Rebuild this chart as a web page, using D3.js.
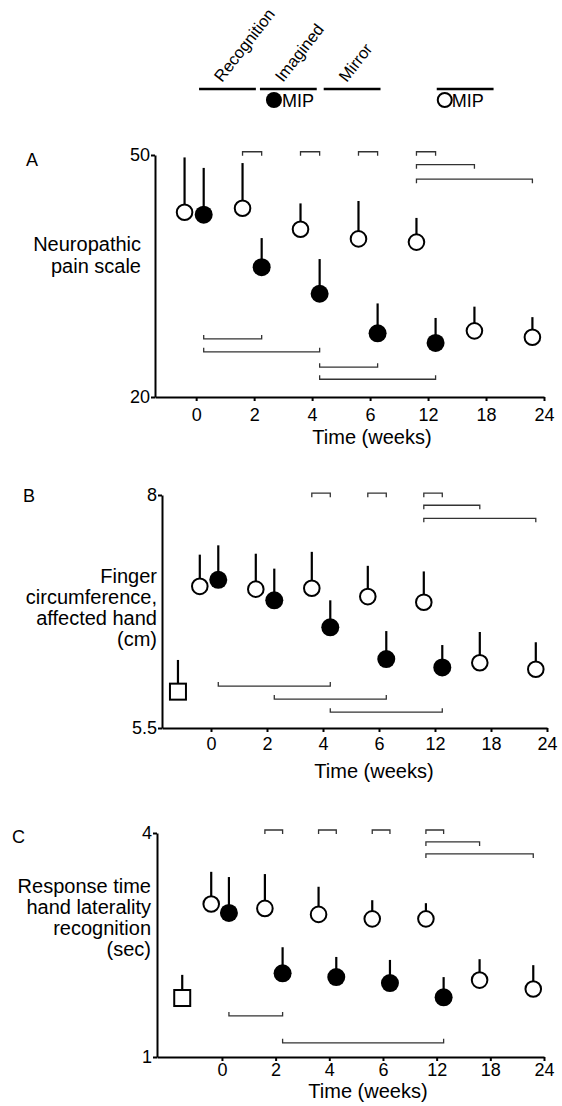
<!DOCTYPE html>
<html>
<head>
<meta charset="utf-8">
<script src="https://cdn.jsdelivr.net/npm/d3@7"></script>
<style>
  body { margin: 0; background: #fff; }
  svg { display: block; font-family: "Liberation Sans", Arial, sans-serif; }
</style>
</head>
<body>
<script>
// ---- data ----
const weekLabels = ["0", "2", "4", "6", "12", "18", "24"];

// A: neuropathic pain scale
const painOpen = [42.9, 43.4, 40.8, 39.6, 39.2, 28.2, 27.4];
const painOpenErr = [6.8, 5.6, 3.2, 4.7, 3.0, 3.0, 2.5];
const painFilled = [42.6, 36.1, 32.8, 27.9, 26.7];
const painFilledErr = [5.8, 3.6, 4.3, 3.7, 3.1];

// B: finger circumference (cm)
const fingerOpen = [7.02, 6.99, 7.0, 6.91, 6.85, 6.2, 6.13];
const fingerOpenErr = [0.34, 0.38, 0.39, 0.33, 0.33, 0.33, 0.29];
const fingerFilled = [7.09, 6.87, 6.58, 6.24, 6.15];
const fingerFilledErr = [0.37, 0.34, 0.29, 0.3, 0.24];
const fingerControl = 5.89, fingerControlErr = 0.34;

// C: response time hand laterality recognition (sec)
const rtOpen = [3.05, 2.99, 2.91, 2.85, 2.85, 2.03, 1.91];
const rtOpenErr = [0.43, 0.46, 0.37, 0.25, 0.21, 0.28, 0.32];
const rtFilled = [2.93, 2.12, 2.07, 1.99, 1.8];
const rtFilledErr = [0.48, 0.35, 0.27, 0.31, 0.27];
const rtControl = 1.79, rtControlErr = 0.31;

// significance brackets: [fromWeek, fromSeries, toWeek, toSeries, level]
const painBracketsTop = [[1, "o", 1, "f", 50.4], [2, "o", 2, "f", 50.4], [3, "o", 3, "f", 50.4], [4, "o", 4, "f", 50.4], [4, "o", 5, "o", 48.8], [4, "o", 6, "o", 47.0]];
const painBracketsBottom = [[0, "f", 1, "f", 27.2], [0, "f", 2, "f", 25.6], [2, "f", 3, "f", 23.7], [2, "f", 4, "f", 22.2]];
const fingerBracketsTop = [[2, "o", 2, "f", 8.02], [3, "o", 3, "f", 8.02], [4, "o", 4, "f", 8.02], [4, "o", 5, "o", 7.89], [4, "o", 6, "o", 7.75]];
const fingerBracketsBottom = [[0, "f", 2, "f", 5.95], [1, "f", 3, "f", 5.81], [2, "f", 4, "f", 5.67]];
const rtBracketsTop = [[1, "o", 1, "f", 4.04], [2, "o", 2, "f", 4.04], [3, "o", 3, "f", 4.04], [4, "o", 4, "f", 4.04], [4, "o", 5, "o", 3.88], [4, "o", 6, "o", 3.72]];
const rtBracketsBottom = [[0, "f", 1, "f", 1.55], [1, "f", 4, "f", 1.19]];

// treatment phases (in week-index units)
const phaseNames = ["Recognition", "Imagined", "Mirror", ""];
const phaseStart = [0.05, 1.1, 2.2, 4.15];
const phaseEnd = [1.03, 2.08, 3.18, 5.13];

const seriesOffset = { o: -0.2, f: 0.13 };

var svg = d3
  .select("body")
  .append("svg")
  .attr("width", 562)
  .attr("height", 1106);

function drawPanel(cfg) {
  var x = d3.scaleLinear().domain([cfg.xStart, 6]).range(cfg.xRange);
  var y = d3.scaleLinear().domain(cfg.yDomain).range(cfg.yRange);
  var g = svg.append("g");

  // axes
  var xAxis = g
    .append("g")
    .attr("transform", "translate(0," + cfg.yRange[0] + ")")
    .call(
      d3
        .axisBottom(x)
        .tickValues(d3.range(7))
        .tickFormat((d) => weekLabels[d])
        .tickSize(4)
        .tickSizeOuter(0)
        .tickPadding(cfg.xPad)
    );
  var yAxis = g
    .append("g")
    .attr("transform", "translate(" + cfg.xRange[0] + ",0)")
    .call(
      d3
        .axisLeft(y)
        .tickValues(cfg.yDomain)
        .tickFormat((d) => String(d))
        .tickSize(4)
        .tickSizeOuter(0)
        .tickPadding(1)
    );
  [xAxis, yAxis].forEach(function (a) {
    a.select(".domain").attr("stroke", "#000").attr("stroke-width", 2);
    a.selectAll(".tick line").attr("stroke", "#000").attr("stroke-width", 2);
    a.selectAll(".tick text")
      .attr("fill", "#000")
      .style("font-size", "18px")
      .style("font-family", "Liberation Sans, Arial, sans-serif");
  });

  // axis title
  g.append("text")
    .attr("x", cfg.titleX)
    .attr("y", cfg.titleY)
    .attr("text-anchor", "middle")
    .style("font-size", "20px")
    .text("Time (weeks)");

  // panel letter
  g.append("text")
    .attr("x", cfg.letterX)
    .attr("y", cfg.letterY)
    .style("font-size", "18px")
    .text(cfg.letter);

  // y label
  cfg.yLabel.forEach(function (line, i) {
    g.append("text")
      .attr("x", cfg.yLabelX)
      .attr("y", cfg.yLabelY + i * cfg.yLabelStep)
      .attr("text-anchor", "end")
      .style("font-size", "20px")
      .text(line);
  });

  // brackets
  function bracket(b, dir) {
    var x1 = x(b[0] + seriesOffset[b[1]]);
    var x2 = x(b[2] + seriesOffset[b[3]]);
    var yy = y(b[4]);
    var t = 4 * dir;
    g.append("path")
      .attr("d", "M" + x1 + "," + (yy + t) + "V" + yy + "H" + x2 + "V" + (yy + t))
      .attr("fill", "none")
      .attr("stroke", "#333")
      .attr("stroke-width", 1.3);
  }
  cfg.top.forEach((b) => bracket(b, 1));
  cfg.bottom.forEach((b) => bracket(b, -1));

  // points
  var open = cfg.open.map((v, i) => ({ i: i + seriesOffset.o, v: v, e: cfg.openErr[i] }));
  var filled = cfg.filled.map((v, i) => ({ i: i + seriesOffset.f, v: v, e: cfg.filledErr[i] }));
  var all = open.concat(filled);
  if (cfg.control != null) {
    all.push({ i: cfg.controlIdx, v: cfg.control, e: cfg.controlErr });
  }

  g.selectAll(".err")
    .data(all)
    .enter()
    .append("line")
    .attr("x1", (d) => x(d.i))
    .attr("x2", (d) => x(d.i))
    .attr("y1", (d) => y(d.v))
    .attr("y2", (d) => y(d.v + d.e))
    .attr("stroke", "#000")
    .attr("stroke-width", 2.2);

  if (cfg.control != null) {
    g.append("rect")
      .attr("x", x(cfg.controlIdx) - 8)
      .attr("y", y(cfg.control) - 8)
      .attr("width", 16)
      .attr("height", 16)
      .attr("fill", "#fff")
      .attr("stroke", "#000")
      .attr("stroke-width", 2);
  }

  g.selectAll(".open")
    .data(open)
    .enter()
    .append("circle")
    .attr("cx", (d) => x(d.i))
    .attr("cy", (d) => y(d.v))
    .attr("r", 7.8)
    .attr("fill", "#fff")
    .attr("stroke", "#000")
    .attr("stroke-width", 2);

  g.selectAll(".filled")
    .data(filled)
    .enter()
    .append("circle")
    .attr("cx", (d) => x(d.i))
    .attr("cy", (d) => y(d.v))
    .attr("r", 9)
    .attr("fill", "#000");

  return x;
}

var xA = drawPanel({
  xStart: -0.71, xRange: [155, 544], yDomain: [20, 50], yRange: [397, 155],
  open: painOpen, openErr: painOpenErr, filled: painFilled, filledErr: painFilledErr,
  top: painBracketsTop, bottom: painBracketsBottom,
  letter: "A", letterX: 26, letterY: 166,
  yLabel: ["Neuropathic", "pain scale"], yLabelX: 141, yLabelY: 251, yLabelStep: 22,
  xPad: 7, titleX: 372, titleY: 444
});

drawPanel({
  xStart: -0.875, xRange: [162, 547], yDomain: [5.5, 8], yRange: [728, 495],
  open: fingerOpen, openErr: fingerOpenErr, filled: fingerFilled, filledErr: fingerFilledErr,
  control: fingerControl, controlErr: fingerControlErr, controlIdx: -0.59,
  top: fingerBracketsTop, bottom: fingerBracketsBottom,
  letter: "B", letterX: 23, letterY: 502,
  yLabel: ["Finger", "circumference,", "affected hand", "(cm)"], yLabelX: 157, yLabelY: 583, yLabelStep: 21,
  xPad: 5, titleX: 374, titleY: 778
});

drawPanel({
  xStart: -1.21, xRange: [157, 544], yDomain: [1, 4], yRange: [1057, 833],
  open: rtOpen, openErr: rtOpenErr, filled: rtFilled, filledErr: rtFilledErr,
  control: rtControl, controlErr: rtControlErr, controlIdx: -0.74,
  top: rtBracketsTop, bottom: rtBracketsBottom,
  letter: "C", letterX: 12, letterY: 843,
  yLabel: ["Response time", "hand laterality", "recognition", "(sec)"], yLabelX: 151, yLabelY: 893, yLabelStep: 21,
  xPad: 2, titleX: 368, titleY: 1098
});

// phase bars at the top
var topG = svg.append("g");
topG.selectAll(".phase")
  .data(phaseStart)
  .enter()
  .append("line")
  .attr("x1", (d) => xA(d))
  .attr("x2", (d, i) => xA(phaseEnd[i]))
  .attr("y1", 89)
  .attr("y2", 89)
  .attr("stroke", "#000")
  .attr("stroke-width", 2.6);

topG.selectAll(".phaseLabel")
  .data(phaseNames.filter((d) => d))
  .enter()
  .append("text")
  .attr("transform", (d, i) => "translate(" + (xA(phaseStart[i]) + 23) + ",83) rotate(-52)")
  .style("font-size", "16.5px")
  .text((d) => d);

// MIP legend: filled under imagined, open under last bar
topG.append("circle")
  .attr("cx", xA(phaseStart[1]) + 14)
  .attr("cy", 100)
  .attr("r", 8)
  .attr("fill", "#000");
topG.append("text")
  .attr("x", xA(phaseStart[1]) + 22)
  .attr("y", 107)
  .style("font-size", "18px")
  .text("MIP");
topG.append("circle")
  .attr("cx", xA(phaseStart[3]) + 8)
  .attr("cy", 100)
  .attr("r", 7)
  .attr("fill", "#fff")
  .attr("stroke", "#000")
  .attr("stroke-width", 2);
topG.append("text")
  .attr("x", xA(phaseStart[3]) + 15)
  .attr("y", 107)
  .style("font-size", "18px")
  .text("MIP");
</script>
</body>
</html>
